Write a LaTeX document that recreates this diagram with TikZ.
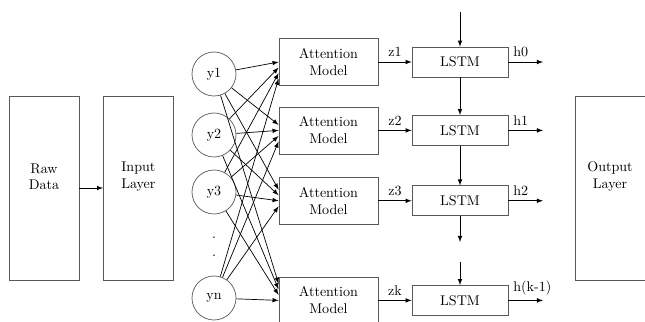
\documentclass[tikz,border=0pt]{standalone}
\usetikzlibrary{calc}
\begin{document}
\begin{tikzpicture}[auto, >=latex, line width=0.5pt,
	layer/.style={draw=black!65, minimum width=1.75cm, minimum height=4.6cm},
	laytext/.style={align=center, yshift=0.28cm},
	attbox/.style={draw=black!65, align=center, minimum width=2.475cm, minimum height=1.175cm, inner sep=1pt},
	lstmbox/.style={draw=black!65, minimum width=2.4cm, minimum height=0.75cm},
	ynode/.style={circle, draw=black!65, minimum size=1.1cm, inner sep=0pt}]
				\useasboundingbox (0,0) rectangle (16.125,8.05);
				\node[layer, label={[laytext]center:Raw\\Data}] (raw) at (1.1, 3.35) {};
				\node[layer, label={[laytext]center:Input\\Layer}] (input) at (3.46, 3.35) {};
				\node[layer, label={[laytext]center:Output\\Layer}] (output) at (15.25, 3.35) {};
				\draw[->] (raw) to (input);
				\node[ynode] (y1) at (5.35, 6.2) {y1};
				\node[ynode] (y2) at (5.35, 4.675) {y2};
				\node[ynode] (y3) at (5.35, 3.25) {y3};
				\node (dot1) at (5.35, 2.1) {.};
				\node (dot2) at (5.35, 1.65) {.};
				\node[ynode] (yn) at (5.35, 0.6) {yn};
				\node[attbox] (att1) at (8.21, 6.5) {Attention\\Model};
				\node[attbox] (att2) at (8.21, 4.79) {Attention\\Model};
				\node[attbox] (att3) at (8.21, 3.03) {Attention\\Model};
				\node[attbox] (att4) at (8.21, 0.54) {Attention\\Model};
				\node[lstmbox] (lstm1) at (11.5, 6.5) {LSTM};
				\node[lstmbox] (lstm2) at (11.5, 4.79) {LSTM};
				\node[lstmbox] (lstm3) at (11.5, 3.03) {LSTM};
				\node[lstmbox] (lstm4) at (11.5, 0.54) {LSTM};
				\foreach \s/\i in {y1/1,y2/2,y3/3,yn/4}
					\foreach \j in {1,...,4}
						\draw[->] (\s) -- ($(att\j.west)+(0,{(\j-\i)*0.14})$);
				\draw[->] (att1) to node[above]{z1} (lstm1);
				\draw[->] (att2) to node[above]{z2} (lstm2);
				\draw[->] (att3) to node[above]{z3} (lstm3);
				\draw[->] (att4) to node[above]{zk} (lstm4);
				\coordinate (out1) at (13.575, 6.5);
				\coordinate (out2) at (13.575, 4.79);
				\coordinate (out3) at (13.575, 3.03);
				\coordinate (out4) at (13.575, 0.54);
				\draw[->] (lstm1) to node[above right, pos=0]{h0} (out1);
				\draw[->] (lstm2) to node[above right, pos=0]{h1} (out2);
				\draw[->] (lstm3) to node[above right, pos=0]{h2} (out3);
				\draw[->] (lstm4) to node[above right, pos=0]{h(k-1)} (out4);
				\coordinate (top) at (11.5, 7.75);
				\coordinate (gap1) at (11.5, 2.0);
				\coordinate (gap2) at (11.5, 1.5);
				\draw[->] (top) to (lstm1);
				\draw[->] (lstm1) to (lstm2);
				\draw[->] (lstm2) to (lstm3);
				\draw[->] (lstm3) to (gap1);
				\draw[->] (gap2) to (lstm4);
			\end{tikzpicture}
\end{document}
